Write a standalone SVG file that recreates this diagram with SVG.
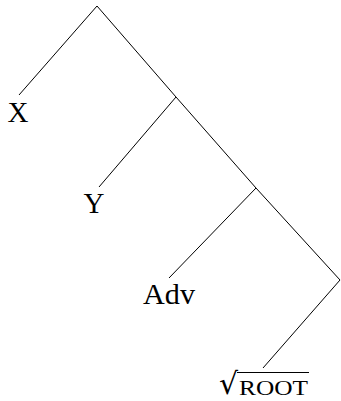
<svg xmlns="http://www.w3.org/2000/svg" width="341" height="401" viewBox="0 0 341 401">
<style>
.e{stroke:#000;stroke-width:1;fill:none}
.t{font-family:"Liberation Serif","Times New Roman",serif;font-size:29px;fill:#000;text-anchor:middle}
.sc{font-family:"Liberation Serif","Times New Roman",serif;font-size:22px;fill:#000}
.rad{font-family:"DejaVu Serif",serif;font-size:30px;fill:#000}
</style>
<rect width="341" height="401" fill="#fff"/>
<g id="connectors">
<line class="e" x1="97" y1="6" x2="19" y2="95"/>
<line class="e" x1="97" y1="6" x2="176" y2="97"/>
<line class="e" x1="176" y1="97" x2="99" y2="187"/>
<line class="e" x1="176" y1="97" x2="256" y2="188"/>
<line class="e" x1="256" y1="188" x2="169" y2="278"/>
<line class="e" x1="256" y1="188" x2="340" y2="280"/>
<line class="e" x1="340" y1="280" x2="263" y2="368"/>
</g>
<g id="node-X"><text class="t" x="18" y="122">X</text></g>
<g id="node-Y"><text class="t" x="94" y="213">Y</text></g>
<g id="node-Adv"><text class="t" x="169" y="304" textLength="52" lengthAdjust="spacingAndGlyphs">Adv</text></g>
<g id="node-ROOT">
<text class="rad" x="219" y="394">√</text>
<line class="e" x1="237" y1="372.5" x2="309" y2="372.5"/>
<text class="sc" x="239" y="395" textLength="69" lengthAdjust="spacingAndGlyphs">ROOT</text>
</g>
</svg>
